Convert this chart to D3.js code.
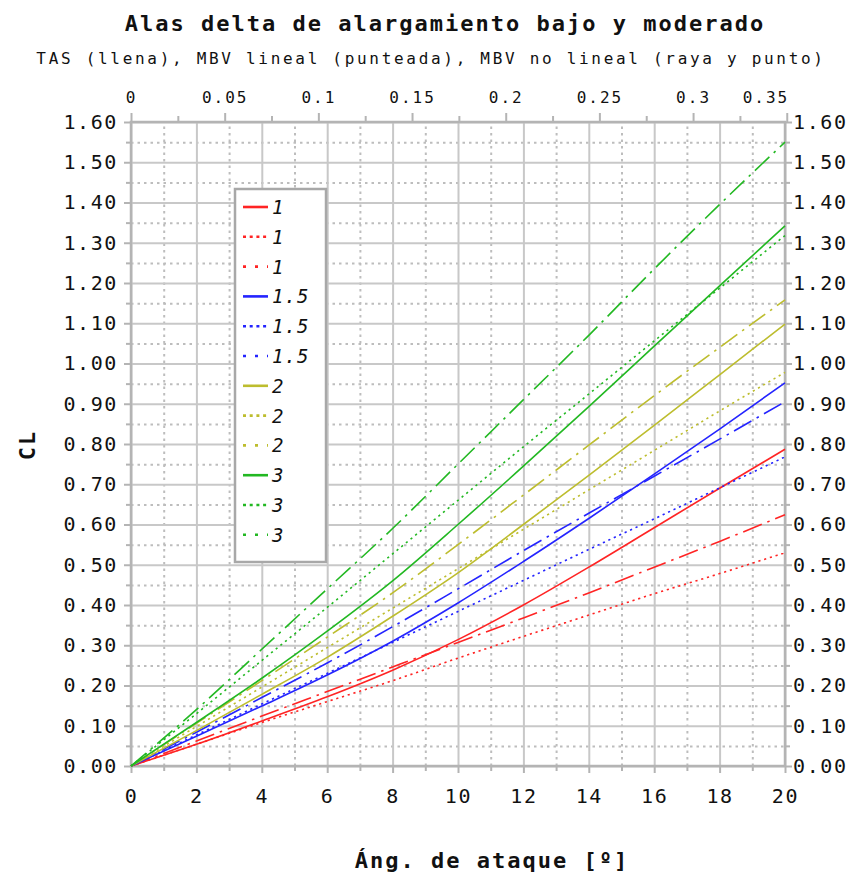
<!DOCTYPE html>
<html>
<head>
<meta charset="utf-8">
<script src="https://cdn.jsdelivr.net/npm/d3@7"></script>
<style>
  body { margin: 0; background: #fff; }
  text { font-family: "DejaVu Sans Mono", monospace; fill: #111; }
  .grid line { stroke: #c8c8c8; stroke-width: 2; }
  .minor line { stroke: #bdbdbd; stroke-width: 2; stroke-dasharray: 2.5,4; }
  .axis path { display: none; }
  .axis line { stroke: #b4b4b4; stroke-width: 2; }
  .axis text { font-size: 20px; letter-spacing: 1.6px; }
  .axisTop text { font-size: 16px; letter-spacing: 2px; }
</style>
</head>
<body>
<div id="chart"></div>
<script>
// angle of attack [deg]
var angles = [0, 2, 4, 6, 8, 10, 12, 14, 16, 18, 20];

// CL for each aspect ratio: TAS (solid), MBV lineal (dotted), MBV no lineal (dash-dot)
var tas1   = [0, 0.054, 0.112, 0.172, 0.238, 0.314, 0.4, 0.494, 0.592, 0.69, 0.787];
var lin1   = [0, 0.054, 0.108, 0.16, 0.212, 0.268, 0.322, 0.375, 0.428, 0.478, 0.53];
var nl1    = [0, 0.062, 0.124, 0.185, 0.246, 0.307, 0.368, 0.43, 0.494, 0.558, 0.624];
var tas15  = [0, 0.074, 0.149, 0.226, 0.31, 0.405, 0.508, 0.615, 0.725, 0.837, 0.952];
var lin15  = [0, 0.077, 0.154, 0.23, 0.307, 0.384, 0.461, 0.538, 0.614, 0.691, 0.768];
var nl15   = [0, 0.084, 0.17, 0.256, 0.346, 0.44, 0.535, 0.628, 0.72, 0.812, 0.905];
var tas2   = [0, 0.088, 0.178, 0.27, 0.372, 0.48, 0.6, 0.722, 0.846, 0.972, 1.098];
var lin2   = [0, 0.098, 0.196, 0.294, 0.392, 0.49, 0.588, 0.686, 0.784, 0.882, 0.978];
var nl2    = [0, 0.106, 0.212, 0.32, 0.43, 0.55, 0.673, 0.797, 0.92, 1.04, 1.158];
var tas3   = [0, 0.108, 0.218, 0.335, 0.46, 0.6, 0.745, 0.893, 1.043, 1.193, 1.342];
var lin3   = [0, 0.13, 0.262, 0.394, 0.527, 0.66, 0.793, 0.924, 1.056, 1.187, 1.318];
var nl3    = [0, 0.14, 0.29, 0.44, 0.59, 0.75, 0.91, 1.07, 1.235, 1.395, 1.55];

var legendLabels = ["1", "1", "1", "1.5", "1.5", "1.5", "2", "2", "2", "3", "3", "3"];
var seriesValues = [tas1, lin1, nl1, tas15, lin15, nl15, tas2, lin2, nl2, tas3, lin3, nl3];

var colors = ["#ff2424", "#2424ff", "#bdbd2e", "#22b822"];
var plotDash = [null, "2.2,3.8", "20,6,2.5,6"];
var legendDash = [null, "3,3.7", "3,9"];

var svgWidth = 859, svgHeight = 882;
var margin = {top: 122, right: 74, bottom: 116, left: 131};
var width = svgWidth - margin.left - margin.right;
var height = svgHeight - margin.top - margin.bottom;

var svg = d3.select("#chart").append("svg")
  .attr("width", svgWidth)
  .attr("height", svgHeight);

var g = svg.append("g")
  .attr("transform", `translate(${margin.left}, ${margin.top})`);

var x = d3.scaleLinear().domain([0, 20]).range([0, width]);
var xRad = d3.scaleLinear().domain([0, 20 * Math.PI / 180]).range([0, width]);
var y = d3.scaleLinear().domain([0, 1.6]).range([height, 0]);

var majorY = d3.range(0, 1.6001, 0.1);
var minorY = d3.range(0.05, 1.6, 0.1);
var majorX = d3.range(0, 20.01, 2);
var minorX = d3.range(1, 20, 2);

// minor grid (dotted)
g.append("g").attr("class", "minor")
  .call(d3.axisLeft(y).tickValues(minorY).tickSize(-width).tickFormat(""))
  .select(".domain").remove();
g.append("g").attr("class", "minor")
  .attr("transform", `translate(0, ${height})`)
  .call(d3.axisBottom(x).tickValues(minorX).tickSize(-height).tickFormat(""))
  .select(".domain").remove();

// major grid (solid)
g.append("g").attr("class", "grid")
  .call(d3.axisLeft(y).tickValues(majorY).tickSize(-width).tickFormat(""))
  .select(".domain").remove();
g.append("g").attr("class", "grid")
  .attr("transform", `translate(0, ${height})`)
  .call(d3.axisBottom(x).tickValues(majorX).tickSize(-height).tickFormat(""))
  .select(".domain").remove();

// frame
g.append("rect")
  .attr("width", width).attr("height", height)
  .attr("fill", "none").attr("stroke", "#b4b4b4").attr("stroke-width", 2.5);

// axes with labels
g.append("g").attr("class", "axis")
  .call(d3.axisLeft(y).tickValues(majorY).tickSize(7).tickPadding(6).tickFormat(d3.format(".2f")));
g.append("g").attr("class", "axis")
  .call(d3.axisLeft(y).tickValues(minorY).tickSize(5).tickFormat(""));
g.append("g").attr("class", "axis")
  .attr("transform", `translate(${width}, 0)`)
  .call(d3.axisRight(y).tickValues(majorY).tickSize(7).tickPadding(1).tickFormat(d3.format(".2f")));
g.append("g").attr("class", "axis")
  .attr("transform", `translate(${width}, 0)`)
  .call(d3.axisRight(y).tickValues(minorY).tickSize(5).tickFormat(""));
g.append("g").attr("class", "axis")
  .attr("transform", `translate(0, ${height})`)
  .call(d3.axisBottom(x).tickValues(majorX).tickSize(7).tickPadding(16).tickFormat(d3.format("d")));
g.append("g").attr("class", "axis")
  .attr("transform", `translate(0, ${height})`)
  .call(d3.axisBottom(x).tickValues(minorX).tickSize(5).tickFormat(""));
var topAxis = g.append("g").attr("class", "axis axisTop")
  .call(d3.axisTop(xRad).tickValues(d3.range(0, 0.351, 0.05)).tickSize(9).tickPadding(10).tickFormat(d => +d.toFixed(2)));
// last label does not fit past the frame, keep it right-aligned
topAxis.selectAll(".tick:last-of-type text").attr("text-anchor", "end").attr("dx", 2);
g.append("g").attr("class", "axis")
  .call(d3.axisTop(xRad).tickValues(d3.range(0.025, 0.35, 0.05)).tickSize(6).tickFormat(""));

// curves
var line = d3.line()
  .x((d, i) => x(angles[i]))
  .y(d => y(d))
  .curve(d3.curveMonotoneX);

g.append("g").selectAll("path")
  .data(seriesValues)
  .enter()
  .append("path")
  .attr("d", d => line(d))
  .attr("fill", "none")
  .attr("stroke", (d, i) => colors[Math.floor(i / 3)])
  .attr("stroke-width", 1.6)
  .attr("stroke-dasharray", (d, i) => plotDash[i % 3]);

// legend
var legend = svg.append("g").attr("transform", "translate(235, 189)");
legend.append("rect")
  .attr("width", 91).attr("height", 373)
  .attr("fill", "#fff").attr("stroke", "#a8a8a8").attr("stroke-width", 2.5);

var items = legend.selectAll(".item")
  .data(legendLabels)
  .enter()
  .append("g")
  .attr("transform", (d, i) => `translate(0, ${18 + i * 29.8})`);

items.append("line")
  .attr("x1", 8).attr("x2", 33)
  .attr("stroke", (d, i) => colors[Math.floor(i / 3)])
  .attr("stroke-width", 2.6)
  .attr("stroke-dasharray", (d, i) => legendDash[i % 3]);

items.append("text")
  .attr("x", 37).attr("y", 7)
  .attr("font-size", "19px")
  .attr("font-style", "italic")
  .attr("letter-spacing", "1px")
  .text(d => d);

// titles
svg.append("text")
  .attr("x", 445).attr("y", 31)
  .attr("text-anchor", "middle")
  .attr("font-size", "22px").attr("font-weight", "bold")
  .attr("letter-spacing", "2px")
  .text("Alas delta de alargamiento bajo y moderado");

svg.append("text")
  .attr("x", 431).attr("y", 64)
  .attr("text-anchor", "middle")
  .attr("font-size", "16px")
  .attr("letter-spacing", "2.7px")
  .text("TAS (llena), MBV lineal (punteada), MBV no lineal (raya y punto)");

svg.append("text")
  .attr("x", 492).attr("y", 868)
  .attr("text-anchor", "middle")
  .attr("font-size", "22px").attr("font-weight", "bold")
  .attr("letter-spacing", "2px")
  .text("Áng. de ataque [º]");

svg.append("text")
  .attr("transform", "translate(35, 445) rotate(-90)")
  .attr("text-anchor", "middle")
  .attr("font-size", "22px").attr("font-weight", "bold")
  .attr("letter-spacing", "2px")
  .text("CL");
</script>
</body>
</html>
